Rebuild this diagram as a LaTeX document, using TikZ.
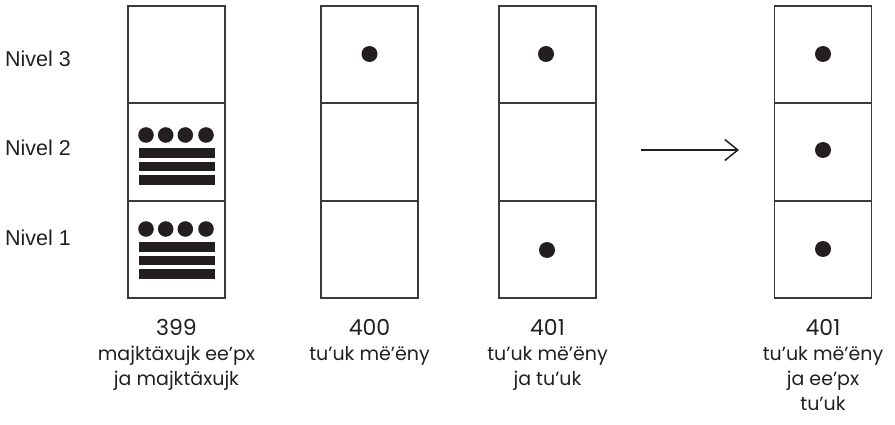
\documentclass[tikz,border=0pt]{standalone}
\usepackage{fontspec}
\setmainfont{Poppins}
\newfontfamily\nivelfont{Liberation Sans}
\usetikzlibrary{arrows.meta}
\definecolor{ink}{HTML}{231F20}
\definecolor{frame}{HTML}{3A3A3A}
\newcommand{\numeral}[1]{{\fontsize{22}{25}\selectfont\strut #1}}
\tikzset{
  cell/.style={draw=frame, line width=1.2pt, minimum width=97pt, minimum height=97pt, inner sep=0pt},
  dot/.style={circle, fill=ink, inner sep=0pt, minimum size=16pt},
  smalldot/.style={circle, fill=ink, inner sep=0pt, minimum size=15.6pt},
  bar/.style={rectangle, fill=ink, inner sep=0pt, minimum width=76pt, minimum height=9.6pt},
  caption/.style={align=center, anchor=north, inner sep=0pt, font=\fontsize{19}{25}\selectfont, text=ink},
  level/.style={anchor=base west, font=\nivelfont\fontsize{21.5}{25}\selectfont, text=ink, inner sep=0pt},
  flow/.style={line width=1.5pt, draw=ink, -{Straight Barb[length=13pt, width=21pt, line width=1.5pt]}}
}
\begin{document}
\begin{tikzpicture}[x=1pt, y=-1pt]
\useasboundingbox (0,0) rectangle (895,425);

% level labels
\node[level] (n3) at (5,66.5) {Nivel 3};
\node[level] (n2) at (5,156) {Nivel 2};
\node[level] (n1) at (5,245.5) {Nivel 1};

% columns of three cells each (top, middle, bottom)
\foreach \c/\x in {1/176.5, 2/369.5, 3/547.5, 4/823} {
  \node[cell] (c\c t) at (\x,54.5) {};
  \node[cell] (c\c m) at (\x,152) {};
  \node[cell] (c\c b) at (\x,249.5) {};
}

% 399: four dots over three bars in the middle and bottom cells
\foreach \lv/\y in {m/135, b/229} {
  \foreach \i/\dx in {1/-30.5, 2/-10.8, 3/8.8, 4/29.5}
    \node[smalldot] (g1\lv d\i) at (176.5+\dx,\y) {};
  \foreach \j/\dy in {1/18, 2/31.5, 3/45}
    \node[bar] (g1\lv b\j) at (177,\y+\dy) {};
}

% 400
\node[dot] (g2t) at (369.5,54) {};
% 401
\node[dot] (g3t) at (546,54) {};
\node[dot] (g3b) at (547,250) {};
% 401 regrouped
\node[dot] (g4t) at (823,54) {};
\node[dot] (g4m) at (823,150) {};
\node[dot] (g4b) at (823,249) {};

% transformation arrow
\coordinate (a0) at (641,150);
\coordinate (a1) at (739,150);
\draw[flow] (a0) -- (a1);

% captions: the strut fixes the first baseline 17.5pt below the top
\node[caption] (l1) at (176.5,317.5) {\numeral{399}\\majktäxujk ee’px\\ja majktäxujk};
\node[caption] (l2) at (369.5,317.5) {\numeral{400}\\tu’uk më’ëny};
\node[caption] (l3) at (547.5,317.5) {\numeral{401}\\tu’uk më’ëny\\ja tu’uk};
\node[caption] (l4) at (823,317.5) {\numeral{401}\\tu’uk më’ëny\\ja ee’px\\tu’uk};
\end{tikzpicture}
\end{document}
